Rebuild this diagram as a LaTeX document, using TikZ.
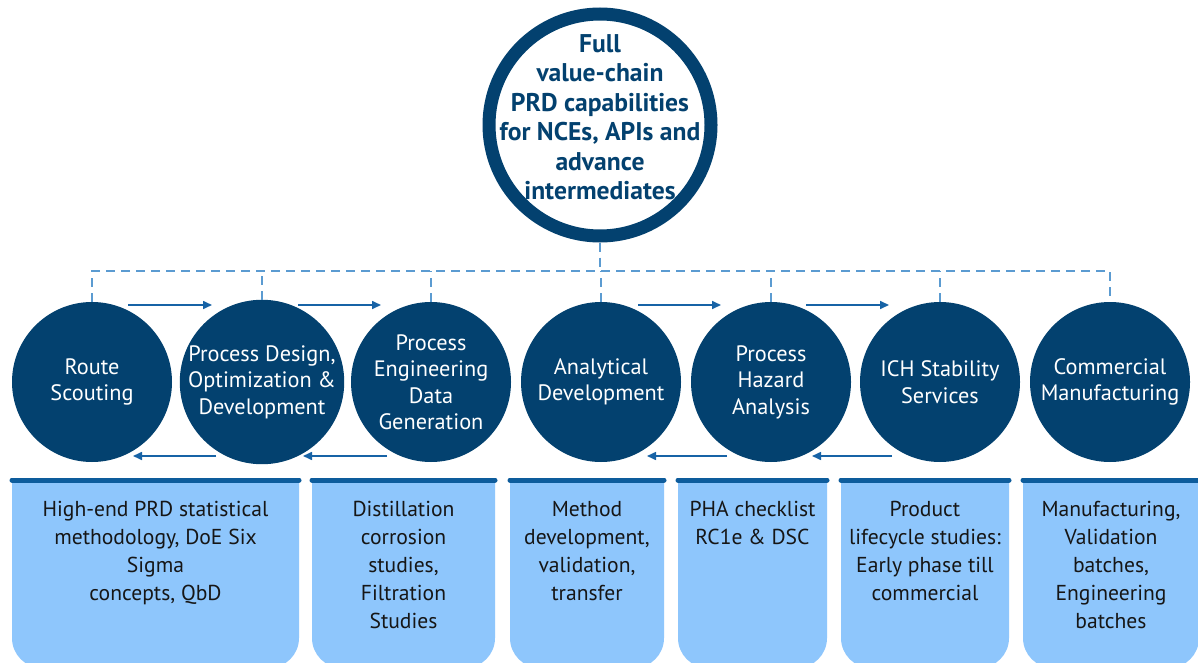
\documentclass[tikz,border=0pt]{standalone}
\usepackage{fontspec}
\setmainfont{PT Sans}
\usetikzlibrary{arrows.meta,calc}
\definecolor{navy}{HTML}{03416F}
\definecolor{arrowblue}{HTML}{1763A6}
\definecolor{dashblue}{HTML}{5B9BD1}
\definecolor{barblue}{HTML}{0D5C9C}
\definecolor{boxfill}{HTML}{8EC6FC}
\definecolor{boxtext}{HTML}{161616}
\tikzset{
  stage/.style={circle, fill=navy, minimum size=160pt, inner sep=0pt, text=white, align=center,
    font=\fontsize{22.3}{26.5}\selectfont},
  dashline/.style={dashblue, line width=1.3pt, dash pattern=on 9pt off 6pt},
  arr/.style={arrowblue, line width=1.6pt, -{Triangle[length=9pt,width=8pt]}},
  barline/.style={barblue, line width=5pt, line cap=round},
  boxbody/.style={fill=boxfill},
  boxlabel/.style={anchor=north, inner sep=0pt, align=center, text=boxtext,
    font=\fontsize{21.6}{28}\selectfont},
}
\newcommand{\detailbox}[5]{%
  \fill[boxbody] (#1,482) -- (#1,638) arc[start angle=180, end angle=90, radius=30]
    -- (#2-30,668) arc[start angle=90, end angle=0, radius=30] -- (#2,482) -- cycle;
  \draw[barline] (#1,480) -- (#2,480);
  \node[boxlabel] (#3) at ({(#1+#2)/2},#4) {#5};
}
\begin{document}
\begin{tikzpicture}[x=1pt,y=-1pt]
\useasboundingbox (0,0) rectangle (1198,663);
\clip (0,0) rectangle (1198,663);
\fill[white] (0,0) rectangle (1198,663);

% top circle
\node[circle, draw=navy, line width=13pt, minimum size=222pt, inner sep=0pt] (top) at (600,125) {};
\node[align=center, text=navy, inner sep=0pt, font=\bfseries\fontsize{25.6}{29.5}\selectfont] (toptext) at (600,117)
  {Full\\value-chain\\PRD capabilities\\for NCEs, APIs and\\advance\\intermediates};

% stage circles
\node[stage] (c1) at (92,382) {Route\\Scouting};
\node[stage] (c2) at (262,382) {Process Design,\\Optimization \&\\Development};
\node[stage] (c3) at (431,382) {Process\\Engineering\\Data\\Generation};
\node[stage] (c4) at (601,382) {Analytical\\Development};
\node[stage] (c5) at (771,382) {Process\\Hazard\\Analysis};
\node[stage] (c6) at (940,382) {ICH Stability\\Services};
\node[stage] (c7) at (1110,382) {Commercial\\Manufacturing};

% dashed distribution line
\coordinate (dl) at (c1.north |- 0,271);
\coordinate (dr) at (c7.north |- 0,271);
\draw[dashline] (c1.north) -- (dl) -- (dr) -- (c7.north);
\foreach \n in {c2,c3,c4,c5,c6} {\draw[dashline] (\n.north) -- (\n.north |- 0,271);}
\draw[dashline] (top.south) -- (top.south |- 0,271);

% forward arrows
\draw[arr] ($(c1.center)+(36,-77)$) -- ($(c2.center)+(-50,-77)$);
\draw[arr] ($(c2.center)+(36,-77)$) -- ($(c3.center)+(-50,-77)$);
\draw[arr] ($(c4.center)+(37,-77)$) -- ($(c5.center)+(-50,-77)$);
\draw[arr] ($(c5.center)+(35,-77)$) -- ($(c6.center)+(-51,-77)$);
% backward arrows
\draw[arr] ($(c2.center)+(-46,74)$) -- ($(c1.center)+(41,74)$);
\draw[arr] ($(c3.center)+(-44,74)$) -- ($(c2.center)+(41,74)$);
\draw[arr] ($(c5.center)+(-44,74)$) -- ($(c4.center)+(46,74)$);
\draw[arr] ($(c6.center)+(-48,74)$) -- ($(c5.center)+(41,74)$);

% detail boxes
\detailbox{12}{299}{b1}{501}{High-end PRD statistical\\methodology, DoE Six\\Sigma\\concepts, QbD}
\detailbox{312}{495}{b2}{501}{Distillation\\corrosion\\studies,\\Filtration\\Studies}
\detailbox{510}{664}{b3}{501}{Method\\development,\\validation,\\transfer}
\detailbox{678}{827}{b4}{501}{PHA checklist\\RC1e \& DSC}
\detailbox{841}{1009}{b5}{501}{Product\\lifecycle studies:\\Early phase till\\commercial}
\detailbox{1023}{1199}{b6}{501}{Manufacturing,\\Validation\\batches,\\Engineering\\batches}
\end{tikzpicture}
\end{document}
